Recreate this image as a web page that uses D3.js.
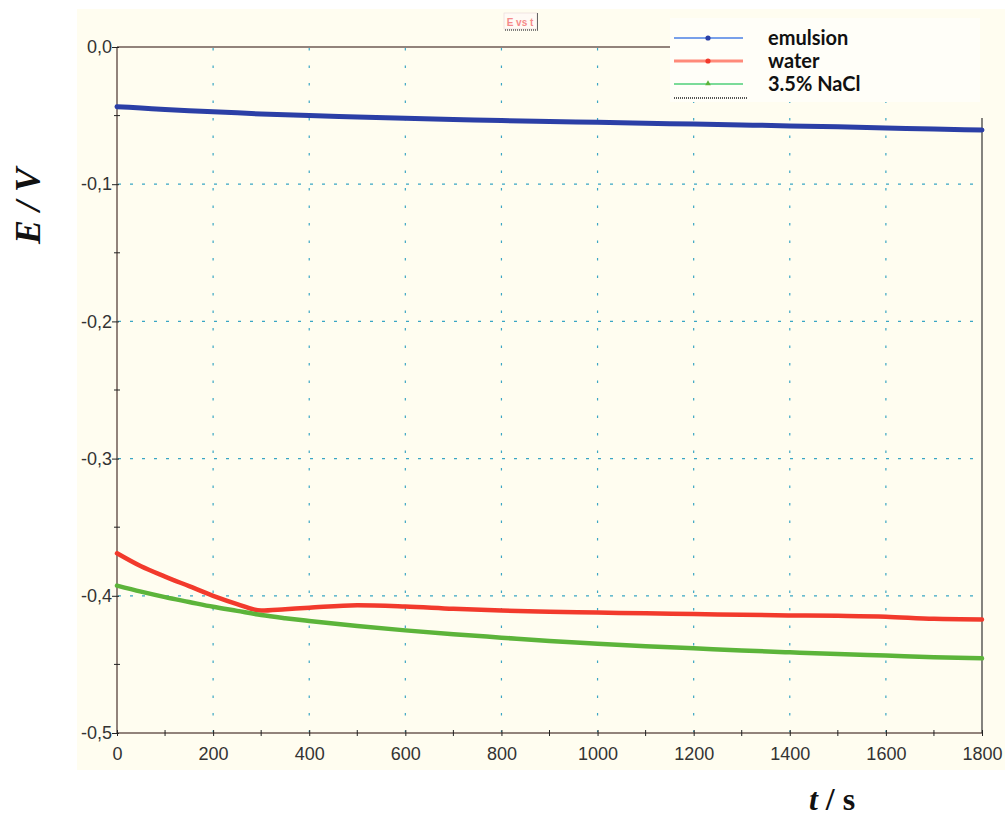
<!DOCTYPE html>
<html><head><meta charset="utf-8">
<script src="https://cdn.jsdelivr.net/npm/d3@7"></script>
<style>body{margin:0;background:#fff}svg{display:block}</style>
</head><body>
<svg id="c" width="1005" height="818"></svg>
<script>
const tValues = [0,50,100,150,200,250,300,350,400,500,600,700,800,900,1000,1100,1200,1300,1400,1500,1600,1700,1800];
const emulsion = [-0.0435,-0.0445,-0.0455,-0.0464,-0.0472,-0.0480,-0.0488,-0.0494,-0.0500,-0.0510,-0.0520,-0.0528,-0.0536,-0.0543,-0.0549,-0.0555,-0.0562,-0.0568,-0.0575,-0.0582,-0.0590,-0.0598,-0.0605];
const water = [-0.369,-0.3785,-0.386,-0.393,-0.400,-0.406,-0.4108,-0.4098,-0.4087,-0.4068,-0.4078,-0.4095,-0.4108,-0.4116,-0.4122,-0.4128,-0.4133,-0.4138,-0.4143,-0.4146,-0.4152,-0.4168,-0.4172];
const nacl = [-0.3926,-0.397,-0.401,-0.4045,-0.408,-0.411,-0.414,-0.4163,-0.4183,-0.422,-0.4252,-0.428,-0.4305,-0.433,-0.435,-0.4368,-0.4383,-0.4398,-0.4412,-0.4425,-0.4436,-0.4447,-0.4456];
const seriesNames = ["emulsion","water","3.5% NaCl"];
const xTicks = [0,200,400,600,800,1000,1200,1400,1600,1800];
const yTicks = [0,-0.1,-0.2,-0.3,-0.4,-0.5];
const yTickLabels = ["0,0","-0,1","-0,2","-0,3","-0,4","-0,5"];

const svg = d3.select("#c");
const L = 117, R = 982, T = 47, B = 733;
const x = d3.scaleLinear().domain([0,1800]).range([L,R]);
const y = d3.scaleLinear().domain([0,-0.5]).range([T,B]);

// cream background
svg.append("rect").attr("x",77).attr("y",9).attr("width",928).attr("height",761).attr("fill","#fffdf0");

// grid
const grid = svg.append("g");
xTicks.slice(1,-1).forEach(v=>{
  grid.append("line").attr("x1",x(v)).attr("x2",x(v)).attr("y1",T+1).attr("y2",B-1)
    .attr("stroke","#3aa6c4").attr("stroke-width",1.2).attr("stroke-dasharray","2.5,15");
});
yTicks.slice(1,-1).forEach(v=>{
  grid.append("line").attr("x1",L+1).attr("x2",R-1).attr("y1",y(v)).attr("y2",y(v))
    .attr("stroke","#3aa6c4").attr("stroke-width",1.2).attr("stroke-dasharray","3,9");
});

// axes
const axCol = "#6e5a55";
svg.append("line").attr("x1",L).attr("x2",L).attr("y1",T).attr("y2",B).attr("stroke",axCol).attr("stroke-width",1.5);
svg.append("line").attr("x1",L).attr("x2",R).attr("y1",B).attr("y2",B).attr("stroke",axCol).attr("stroke-width",1.5);
svg.append("line").attr("x1",L).attr("x2",672).attr("y1",T).attr("y2",T).attr("stroke",axCol).attr("stroke-width",1.5);
svg.append("line").attr("x1",R).attr("x2",R).attr("y1",118).attr("y2",B).attr("stroke","#333").attr("stroke-width",1.2);

const yAxis = d3.axisLeft(y).tickValues(yTicks).tickFormat((d,i)=>yTickLabels[i]).tickSizeInner(5).tickSizeOuter(0).tickPadding(0);
const gy = svg.append("g").attr("transform",`translate(${L},0)`).call(yAxis);
gy.select(".domain").remove();
gy.selectAll(".tick line").attr("stroke","#222").attr("x2",-5).attr("x1",2);
gy.selectAll("text").attr("font-family","Liberation Sans, Arial, sans-serif").attr("font-size",18).attr("fill","#333");
// y minor ticks
d3.range(-0.05,-0.5,-0.1).forEach(v=>{
  svg.append("line").attr("x1",L-3).attr("x2",L+3).attr("y1",y(v)).attr("y2",y(v)).attr("stroke","#222");
});

const xAxis = d3.axisBottom(x).tickValues(xTicks).tickFormat(d3.format("d")).tickSizeInner(4).tickSizeOuter(0).tickPadding(10);
const gx = svg.append("g").attr("transform",`translate(0,${B})`).call(xAxis);
gx.select(".domain").remove();
gx.selectAll(".tick line").attr("stroke","#222").attr("y1",-3).attr("y2",3);
gx.selectAll("text").attr("font-family","Liberation Sans, Arial, sans-serif").attr("font-size",18).attr("fill","#333");
d3.range(100,1800,200).forEach(v=>{
  svg.append("line").attr("x1",x(v)).attr("x2",x(v)).attr("y1",B-3).attr("y2",B+3).attr("stroke","#222");
});

// series
const line = d3.line().x((d,i)=>x(tValues[i])).y(d=>y(d)).curve(d3.curveMonotoneX);
const cols = ["#2b3fa6","#f23a2c","#5cb43a"];
[emulsion,water,nacl].forEach((s,k)=>{
  svg.append("path").datum(s).attr("d",line).attr("fill","none").attr("stroke",cols[k])
    .attr("stroke-width",k===0?5:4.5).attr("stroke-linejoin","round").attr("stroke-linecap","round");
});

// legend
svg.append("rect").attr("x",670).attr("y",18).attr("width",310).attr("height",84).attr("fill","#fffef8");
const lg = svg.append("g");
const lgY = [38,61,84];
const lgLine = ["#4b80e6","#ff8a7a","#4fcf7a"];
const lgMark = ["#2b3fa6","#f23a2c","#5cb43a"];
const lgW = [1.3,3,1.3];
seriesNames.forEach((n,i)=>{
  lg.append("line").attr("x1",674).attr("x2",743).attr("y1",lgY[i]).attr("y2",lgY[i]).attr("stroke",lgLine[i]).attr("stroke-width",lgW[i]);
  if(i<2) lg.append("circle").attr("cx",708).attr("cy",lgY[i]).attr("r",2.6).attr("fill",lgMark[i]);
  else lg.append("path").attr("d",d3.symbol(d3.symbolTriangle,14)()).attr("transform",`translate(708,${lgY[i]-0.5})`).attr("fill",lgMark[i]);
  lg.append("text").attr("x",768).attr("y",lgY[i]+7).text(n).attr("font-family","Lato, 'Open Sans', sans-serif")
    .attr("font-weight","bold").attr("font-size",20).attr("fill","#111");
});
lg.append("line").attr("x1",674).attr("x2",748).attr("y1",98).attr("y2",98).attr("stroke","#555").attr("stroke-width",2).attr("stroke-dasharray","1,1");

// title box "E vs t"
svg.append("rect").attr("x",504).attr("y",13).attr("width",33).attr("height",16).attr("fill","#fffaf5").attr("stroke","#e8d8d8").attr("stroke-width",0.6);
svg.append("line").attr("x1",505).attr("x2",538).attr("y1",30).attr("y2",30).attr("stroke","#555").attr("stroke-width",1.5).attr("stroke-dasharray","1,1");
svg.append("line").attr("x1",537.5).attr("x2",537.5).attr("y1",13).attr("y2",30).attr("stroke","#666").attr("stroke-width",1);
svg.append("text").attr("x",520).attr("y",26).attr("text-anchor","middle").text("E vs t")
  .attr("font-family","Liberation Sans, Arial, sans-serif").attr("font-size",10).attr("font-weight","bold").attr("fill","#f58a8a");

// axis titles
svg.append("text").attr("transform","translate(40,206) rotate(-90)").attr("text-anchor","middle")
  .attr("font-family","Liberation Serif, 'Times New Roman', serif").attr("font-weight","bold").attr("font-style","italic")
  .attr("font-size",36).attr("fill","#111").text("E / V");
const xt = svg.append("text").attr("x",832).attr("y",810).attr("text-anchor","middle")
  .attr("font-family","Liberation Serif, 'Times New Roman', serif").attr("font-weight","bold")
  .attr("font-size",32).attr("fill","#111");
xt.append("tspan").attr("font-style","italic").text("t");
xt.append("tspan").text(" / s");
</script>
</body></html>
